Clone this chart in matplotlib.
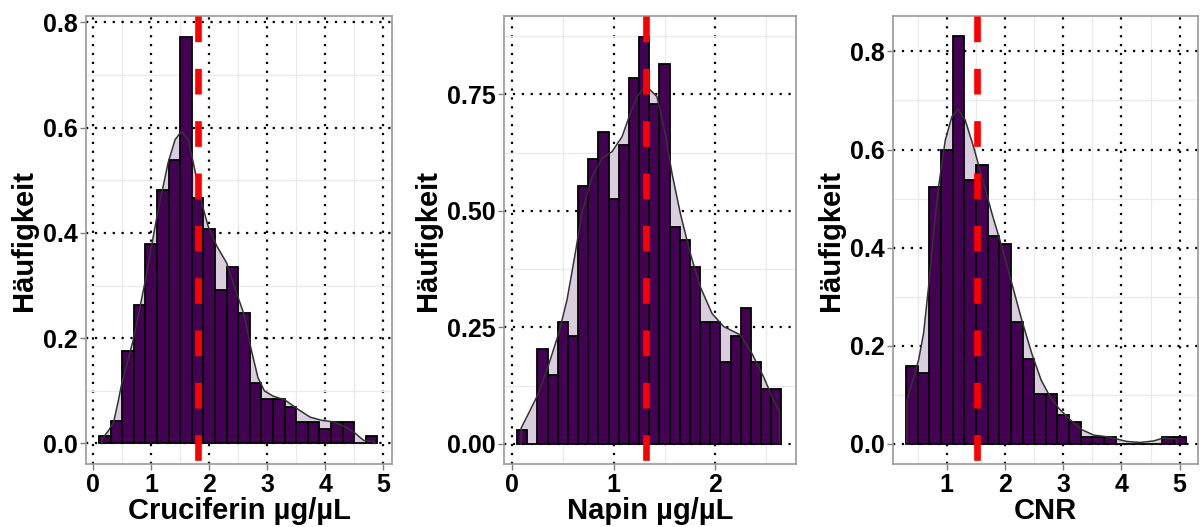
import matplotlib
matplotlib.use("Agg")
import matplotlib.pyplot as plt
import numpy as np
from matplotlib.ticker import FixedLocator

plt.rcParams["font.family"] = ["Liberation Sans", "DejaVu Sans"]
plt.rcParams["font.weight"] = "bold"

BAR_FILL = "#440154"
KDE_FILL = "#dacddd"
KDE_LINE = "#333333"
MEAN_COLOR = "#ff0000"
BORDER = "#9a9a9a"

# Cruciferin: density per 0.2-wide bin starting at 0.1
cru_bin_start, cru_bin_width = 0.1, 0.2
cru_density = [0.014, 0.042, 0.175, 0.263, 0.379, 0.481, 0.539, 0.773, 0.466, 0.408,
               0.291, 0.335, 0.248, 0.114, 0.084, 0.084, 0.070, 0.041, 0.041, 0.027,
               0.041, 0.041, 0.0, 0.014]
cru_kde_x = [0.15, 0.26, 0.35, 0.43, 0.49, 0.69, 0.89, 1.01, 1.12, 1.29, 1.41, 1.52,
             1.64, 1.75, 1.87, 1.98, 2.13, 2.30, 2.47, 2.60, 2.72, 2.84, 2.95, 3.10,
             3.30, 3.53, 3.74, 3.94, 4.14, 4.32, 4.51, 4.66, 4.85]
cru_kde_y = [0.008, 0.024, 0.040, 0.080, 0.113, 0.197, 0.305, 0.378, 0.444, 0.533, 0.577, 0.593,
             0.577, 0.520, 0.457, 0.413, 0.375, 0.343, 0.286, 0.245, 0.180, 0.125, 0.100, 0.090,
             0.083, 0.065, 0.050, 0.044, 0.041, 0.033, 0.020, 0.006, 0.003]
cru_mean = 1.81

# Napin: density per 0.1-wide bin starting at 0.05
nap_bin_start, nap_bin_width = 0.05, 0.1
nap_density = [0.029, 0.0, 0.204, 0.147, 0.262, 0.232, 0.553, 0.611, 0.670, 0.525,
               0.641, 0.786, 0.874, 0.729, 0.816, 0.466, 0.438, 0.380, 0.262, 0.262,
               0.175, 0.232, 0.291, 0.175, 0.118, 0.118]
nap_kde_x = [0.09, 0.164, 0.246, 0.344, 0.459, 0.541, 0.622, 0.688, 0.787, 0.885, 0.983,
             1.082, 1.163, 1.229, 1.30, 1.343, 1.426, 1.507, 1.573, 1.655, 1.753, 1.852,
             1.967, 2.081, 2.245, 2.36, 2.474, 2.572, 2.631]
nap_kde_y = [0.034, 0.066, 0.102, 0.159, 0.237, 0.309, 0.409, 0.495, 0.573, 0.613, 0.627,
             0.659, 0.709, 0.745, 0.765, 0.763, 0.745, 0.666, 0.581, 0.495, 0.409, 0.337,
             0.280, 0.252, 0.234, 0.194, 0.144, 0.094, 0.069]
nap_mean = 1.32

# CNR: density per 0.2-wide bin starting at 0.3
cnr_bin_start, cnr_bin_width = 0.3, 0.2
cnr_density = [0.159, 0.145, 0.524, 0.599, 0.831, 0.538, 0.568, 0.424, 0.407, 0.249,
               0.174, 0.102, 0.102, 0.059, 0.044, 0.014, 0.014, 0.014, 0.0, 0.0,
               0.0, 0.0, 0.014, 0.014]
cnr_kde_x = [0.315, 0.40, 0.515, 0.60, 0.686, 0.772, 0.858, 0.973, 1.087, 1.19, 1.316,
             1.458, 1.60, 1.774, 1.945, 2.117, 2.288, 2.46, 2.62, 2.78, 2.92, 3.12,
             3.32, 3.52, 3.72, 3.92, 4.09, 4.32, 4.55, 4.72, 4.95]
cnr_kde_y = [0.089, 0.123, 0.171, 0.225, 0.320, 0.429, 0.524, 0.619, 0.667, 0.682, 0.660,
             0.606, 0.545, 0.470, 0.402, 0.327, 0.252, 0.184, 0.130, 0.095, 0.073, 0.049,
             0.029, 0.018, 0.015, 0.010, 0.005, 0.003, 0.006, 0.012, 0.010]
cnr_mean = 1.52


def draw_panel(ax, start, width, density, kde_x, kde_y, mean, xlabel,
               xlim, ylim, xticks, yticks, yfmt, xminor, yminor):
    density = np.asarray(density)
    left = start + width * np.arange(len(density))

    # light grid on the minor positions, dotted black on the major ones
    ax.set_axisbelow(True)
    ax.xaxis.set_major_locator(FixedLocator(xticks))
    ax.yaxis.set_major_locator(FixedLocator(yticks))
    ax.xaxis.set_minor_locator(FixedLocator(xminor))
    ax.yaxis.set_minor_locator(FixedLocator(yminor))
    ax.grid(which="minor", color="#ebebeb", linewidth=1.0, linestyle="-")
    ax.grid(which="major", color="black", linewidth=1.6, linestyle=(0, (1, 3)))

    kx = np.concatenate([[kde_x[0]], kde_x, [kde_x[-1]]])
    ky = np.concatenate([[0.0], kde_y, [0.0]])
    ax.fill_between(kde_x, 0, kde_y, color=KDE_FILL, linewidth=0, zorder=2)
    ax.bar(left, density, width=width, align="edge", color=BAR_FILL,
           edgecolor="black", linewidth=1.3, zorder=3)
    ax.plot(kx, ky, color=KDE_LINE, linewidth=1.1, zorder=4)

    ax.plot([mean, mean], [1, 0], transform=ax.get_xaxis_transform(),
            color=MEAN_COLOR, linewidth=4.8, dashes=(3.85, 4.0), zorder=5,
            solid_capstyle="butt", dash_capstyle="butt")

    ax.set_xlim(*xlim)
    ax.set_ylim(*ylim)
    ax.set_yticklabels([yfmt.format(v) for v in yticks])
    ax.set_xticklabels([str(v) for v in xticks])
    ax.tick_params(which="major", length=4.5, width=1.0, color="#7f7f7f",
                   labelsize=18, labelcolor="black", pad=2)
    ax.tick_params(which="minor", length=0)
    for lab in ax.get_xticklabels() + ax.get_yticklabels():
        lab.set_fontweight("bold")
    for sp in ax.spines.values():
        sp.set_color(BORDER)
        sp.set_linewidth(1.2)
    ax.set_xlabel(xlabel, fontsize=21, fontweight="bold", labelpad=0)
    ax.set_ylabel("Häufigkeit", fontsize=21, fontweight="bold", labelpad=3)


fig = plt.figure(figsize=(12, 5.27), dpi=100)
ax1 = fig.add_axes([0.0719, 0.1195, 0.2550, 0.850])
ax2 = fig.add_axes([0.4203, 0.1195, 0.2428, 0.850])
ax3 = fig.add_axes([0.7444, 0.1195, 0.2542, 0.850])

draw_panel(ax1, cru_bin_start, cru_bin_width, cru_density, cru_kde_x, cru_kde_y, cru_mean,
           "Cruciferin µg/µL", (-0.12, 5.155), (-0.039, 0.812),
           [0, 1, 2, 3, 4, 5], [0.0, 0.2, 0.4, 0.6, 0.8], "{:.1f}",
           [0.5, 1.5, 2.5, 3.5, 4.5], [0.1, 0.3, 0.5, 0.7])
draw_panel(ax2, nap_bin_start, nap_bin_width, nap_density, nap_kde_x, nap_kde_y, nap_mean,
           "Napin µg/µL", (-0.075, 2.79), (-0.043, 0.918),
           [0, 1, 2], [0.0, 0.25, 0.5, 0.75], "{:.2f}",
           [0.5, 1.5, 2.5], [0.125, 0.375, 0.625, 0.875])
draw_panel(ax3, cnr_bin_start, cnr_bin_width, cnr_density, cnr_kde_x, cnr_kde_y, cnr_mean,
           "CNR", (0.08, 5.32), (-0.041, 0.872),
           [1, 2, 3, 4, 5], [0.0, 0.2, 0.4, 0.6, 0.8], "{:.1f}",
           [0.5, 1.5, 2.5, 3.5, 4.5], [0.1, 0.3, 0.5, 0.7])

fig.savefig("out.png", dpi=100)
